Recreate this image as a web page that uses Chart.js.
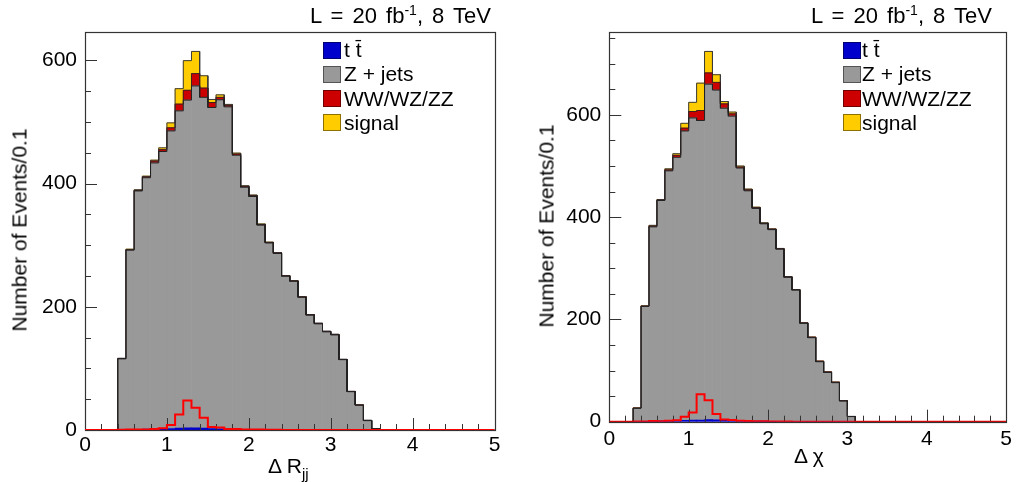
<!DOCTYPE html>
<html><head><meta charset="utf-8">
<script src="https://cdn.jsdelivr.net/npm/chart.js@4/dist/chart.umd.min.js"></script>
<style>
html,body{margin:0;padding:0;background:#fff;}
body{width:1017px;height:482px;position:relative;overflow:hidden;font-family:"Liberation Sans",Arial,Helvetica,sans-serif;color:#000;}
canvas{position:absolute;top:0;}
.t{position:absolute;white-space:nowrap;font-size:21px;line-height:21px;}
.title{font-size:22px;line-height:22px;word-spacing:3px;}
.box{position:absolute;width:16px;height:15px;border:1px solid rgba(0,0,0,0.45);}
.sup{font-size:14px;position:relative;top:-8px;}
.sub{font-size:15px;position:relative;top:6px;}
.ytitle{transform:translate(-50%,-50%) rotate(-90deg);}
</style></head><body>
<canvas id="c1" width="508" height="482" style="left:0"></canvas>
<canvas id="c2" width="509" height="482" style="left:508px"></canvas>

<div class="t title" style="left:310px;top:5px;">L = 20 fb<span class="sup">-1</span>, 8 TeV</div>
<div class="t title" style="left:811px;top:5px;">L = 20 fb<span class="sup">-1</span>, 8 TeV</div>

<div class="t ytitle" style="left:18.5px;top:230px;">Number of Events/0.1</div>
<div class="t ytitle" style="left:545.5px;top:226px;">Number of Events/0.1</div>
<div class="t" style="left:268px;top:455px;">Δ R<span class="sub">jj</span></div>
<div class="t" style="left:794px;top:445px;">Δ χ</div>

<div id="leg1"></div>
<div id="leg2"></div>

<script>
// ---------- data ----------
const binLow = [0.0,0.1,0.2,0.3,0.4,0.5,0.6,0.7,0.8,0.9,
                1.0,1.1,1.2,1.3,1.4,1.5,1.6,1.7,1.8,1.9,
                2.0,2.1,2.2,2.3,2.4,2.5,2.6,2.7,2.8,2.9,
                3.0,3.1,3.2,3.3,3.4,3.5,3.6,3.7,3.8,3.9,
                4.0,4.1,4.2,4.3,4.4,4.5,4.6,4.7,4.8,4.9];
const binWidth = 0.1;
const seriesNames = ["t t\u0304", "Z + jets", "WW/WZ/ZZ", "signal"];
const xTickLabels = [0, 1, 2, 3, 4, 5];
const yTickLabelsL = [0, 200, 400, 600];
const yTickLabelsR = [0, 200, 400, 600];

// Left panel: Delta R_jj
const ttbarL   = [0,0,0,0,0.5,1,1,1.5,1.5,2, 2.5,3,3.5,3.5,3,2.5,2,1.5,1,1, 1,0.5,0.5,0.5,0.5,0.3,0.3,0.3,0.3,0.3, 0.3,0.2,0.2,0.2,0.2,0,0,0,0,0, 0,0,0,0,0,0,0,0,0,0];
const zjetsL   = [0,0,0,0,115,291,387,408,432,450, 483,515,532,555,537,521,534,523,445,393, 378,332,303,286,249,241,215,186,172,159, 154,114,62,40,15,2,0,0,0,0, 0,0,0,0,0,0,0,0,0,0];
const dibosonL = [0,0,0,0,0.5,0.5,1,1.5,3,3, 5,11,16,20,15,8,4,2.5,2,1.5, 1.5,1,1,1,1,1,1,1,1,1, 1,0.5,0.5,0.5,0.5,0,0,0,0,0, 0,0,0,0,0,0,0,0,0,0];
const signalL  = [0,0,0,0,0.5,1,1,1,1.5,3, 8,25,48,36,20,5,4,1.5,1.5,1, 1,1,0.5,0.5,0,0,0,0,0,0, 0,0,0,0,0,0,0,0,0,0, 0,0,0,0,0,0,0,0,0,0];

// Right panel: Delta chi
const ttbarR   = [0,0,0,0.3,0.5,1,1.5,1.5,2,2.5, 3,3,4,3.5,3,2.5,2,1.5,1,1, 0.5,0.3,0.3,0.3,0.3,0.3,0.3,0.3,0.3,0.3, 0,0,0,0,0,0,0,0,0,0, 0,0,0,0,0,0,0,0,0,0];
const zjetsR   = [0,0,0,26,225,380,431,489,515,566, 591,586,656,645,610,595,494,450,416,386, 375,337,282,257,192,164,117,96,76,40, 10,0,0,0,0,0,0,0,0,0, 0,0,0,0,0,0,0,0,0,0];
const dibosonR = [0,0,0,0.3,0.5,1.5,1,2,4,5.5, 12.5,19.5,22,15,8.5,4.5,2,2,1.5,1, 1,1,1,1,1,1,1,1,1,1, 0.3,0,0,0,0,0,0,0,0,0, 0,0,0,0,0,0,0,0,0,0];
const signalR  = [0,0,0,0.3,0.5,1.5,1,2,3,9.5, 18,53.5,42,15,4.5,3.5,2,1.5,1,1, 0.5,0.5,0.5,0,0,0,0,0,0,0, 0,0,0,0,0,0,0,0,0,0, 0,0,0,0,0,0,0,0,0,0];

const colors = ["#0000cc", "#999999", "#cc0000", "#ffcc00"];

// ---------- helpers ----------
function barData(vals){ return vals.map((v,i)=>({x: binLow[i] + binWidth/2, y: v})); }
function stepData(vals){
  const pts = [];
  vals.forEach((v,i)=>{ pts.push({x: binLow[i], y: v}); pts.push({x: binLow[i] + binWidth, y: v}); });
  return pts;
}
function cum(...arrs){ return arrs[0].map((_,i)=>arrs.reduce((s,a)=>s+a[i],0)); }
const isInt = v => Math.abs(v - Math.round(v)) < 1e-6;

Chart.defaults.font.family = "'Liberation Sans', Arial, Helvetica, sans-serif";
Chart.defaults.font.size = 21;
Chart.defaults.color = '#000';

function drawFrame(chart){
  const {ctx, chartArea: a, scales: {x, y}} = chart;
  const o = chart.options.plugins.rootFrame;
  ctx.save();
  ctx.strokeStyle = '#333';
  ctx.lineWidth = 1;
  ctx.beginPath();
  x.ticks.forEach(t => {
    const px = Math.round(x.getPixelForValue(t.value)) + 0.5;
    const len = isInt(t.value) ? 12 : 6;
    ctx.moveTo(px, a.bottom); ctx.lineTo(px, a.bottom - len);
  });
  y.ticks.forEach(t => {
    const py = Math.round(y.getPixelForValue(t.value)) + 0.5;
    const len = (o.yMajor.includes(t.value)) ? 12 : 6;
    ctx.moveTo(a.left, py); ctx.lineTo(a.left + len, py);
  });
  ctx.stroke();
  ctx.lineWidth = 1.2;
  ctx.strokeRect(Math.round(a.left)+0.5, Math.round(a.top)+0.5, Math.round(a.right)-Math.round(a.left), Math.round(a.bottom)-Math.round(a.top));
  ctx.restore();
}
const rootFrame = {
  id: 'rootFrame',
  beforeDatasetDraw(chart, args){
    if (chart.data.datasets[args.index].isSignalLine) drawFrame(chart);
  }
};

function makeChart(id, t, z, d, s, ymax, yLabels, yWidth, xHeight, padRight, xPad){
  const totTop = cum(t, z, d, s), redTop = cum(t, z, d), grayTop = cum(t, z);
  const datasets = [
    {type:'bar', label: seriesNames[0], data: barData(t), backgroundColor: colors[0], order: 10},
    {type:'bar', label: seriesNames[1], data: barData(z), backgroundColor: colors[1], order: 10},
    {type:'bar', label: seriesNames[2], data: barData(d), backgroundColor: colors[2], order: 10},
    {type:'bar', label: seriesNames[3], data: barData(s), backgroundColor: colors[3], order: 10},
    {type:'line', label:'o1', data: stepData(totTop), borderColor:'#3a3a3a', borderWidth:1, pointRadius:0, fill:false, stack:'o1', order:5},
    {type:'line', label:'o2', data: stepData(redTop), borderColor:'#3a2222', borderWidth:1, pointRadius:0, fill:false, stack:'o2', order:4},
    {type:'line', label:'o3', data: stepData(grayTop), borderColor:'#222', borderWidth:1, pointRadius:0, fill:false, stack:'o3', order:3},
    {type:'line', label:'sig', data: stepData(s), borderColor:'#ff0000', borderWidth:2, pointRadius:0, fill:false, stack:'o4', order:0, isSignalLine:true}
  ];
  datasets.forEach(ds => { if (ds.type === 'bar') { ds.barPercentage = 1; ds.categoryPercentage = 1; ds.borderWidth = 0; } });
  return new Chart(document.getElementById(id), {
    type: 'bar',
    data: { datasets },
    options: {
      responsive: false, animation: false, maintainAspectRatio: false,
      layout: { padding: { top: 32, right: padRight, left: 0, bottom: 0 } },
      plugins: { legend: {display:false}, tooltip: {enabled:false}, rootFrame: { yMajor: yLabels } },
      scales: {
        x: { type:'linear', min:0, max:5, offset:false, stacked:true,
             grid:{display:false, drawTicks:false, offset:false}, border:{display:false},
             ticks:{stepSize:0.2, autoSkip:false, maxTicksLimit:100, includeBounds:false, maxRotation:0, padding:xPad,
                    callback:(v)=> (isInt(v) && xTickLabels.includes(Math.round(v))) ? String(Math.round(v)) : ''},
             afterFit:(sc)=>{ sc.height = xHeight; } },
        y: { type:'linear', min:0, max:ymax, stacked:true,
             grid:{display:false, drawTicks:false}, border:{display:false},
             ticks:{stepSize:50, autoSkip:false, maxTicksLimit:100, includeBounds:false, padding:8,
                    callback:(v)=> yLabels.includes(v) ? String(v) : ''},
             afterFit:(sc)=>{ sc.width = yWidth; } }
      }
    },
    plugins: [rootFrame]
  });
}

makeChart('c1', ttbarL, zjetsL, dibosonL, signalL, 646, yTickLabelsL, 85, 52, 13.5, 3);
makeChart('c2', ttbarR, zjetsR, dibosonR, signalR, 762, yTickLabelsR, 101.3, 60.3, 7, 5);

// ---------- legends (HTML text) ----------
function legend(elId, boxLeft, textLeft){
  const el = document.getElementById(elId);
  seriesNames.forEach((name, k) => {
    const top = 39.3 + 24.1*k;
    const b = document.createElement('div');
    b.className = 'box'; b.style.left = boxLeft + 'px'; b.style.top = (top + 2.5) + 'px';
    b.style.background = colors[k];
    el.appendChild(b);
    const t = document.createElement('div');
    t.className = 't'; t.style.left = textLeft + 'px'; t.style.top = top + 'px';
    t.textContent = name;
    el.appendChild(t);
  });
}
legend('leg1', 323, 344);
legend('leg2', 843, 862);
</script>
</body></html>
